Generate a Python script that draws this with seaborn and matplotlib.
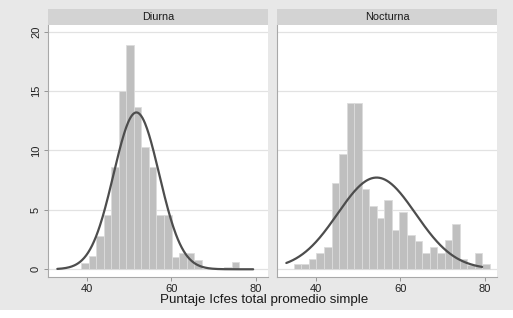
import numpy as np
import pandas as pd
import matplotlib
matplotlib.use("Agg")
import matplotlib.pyplot as plt
import seaborn as sns
from matplotlib.patches import Rectangle

# ---------------- data ----------------
panels = ["Diurna", "Nocturna"]
bin_width = 1.78
diurna_start = 38.68
nocturna_start = 34.87
diurna_pct = [0.5, 1.1, 2.8, 4.6, 8.6, 15.0, 18.9, 13.7, 10.3, 8.6, 4.6,
              4.6, 1.0, 1.4, 1.4, 0.8, 0.0, 0.0, 0.0, 0.2, 0.6]
nocturna_pct = [0.42, 0.42, 0.9, 1.35, 1.85, 7.3, 9.7, 14.0, 14.0, 6.75,
                5.3, 4.3, 5.8, 3.3, 4.8, 2.85, 2.35, 1.35, 1.85, 1.35,
                2.45, 3.85, 0.9, 0.37, 1.35, 0.42]
diurna_mean, diurna_sd = 51.75, 5.38
nocturna_mean, nocturna_sd = 54.4, 9.2
curve_min, curve_max = 33.1, 79.3
x_ticks = [40, 60, 80]
y_ticks = [0, 5, 10, 15, 20]
x_label = "Puntaje Icfes total promedio simple"

# ---------------- style ----------------
sns.set_theme(style="white")
plt.rcParams["font.family"] = ["Liberation Sans", "DejaVu Sans"]

W, H = 513, 318
fig = plt.figure(figsize=(W / 100, H / 100), dpi=100)
fig.patch.set_facecolor("#e8e8e8")
fig.patches.append(Rectangle((0, 0), 1, 8 / H, transform=fig.transFigure,
                             facecolor="white", edgecolor="none", zorder=0))

bar_color = "#bfbfbf"
line_color = "#4d4d4d"

specs = [
    (panels[0], diurna_start, diurna_pct, diurna_mean, diurna_sd, 48),
    (panels[1], nocturna_start, nocturna_pct, nocturna_mean, nocturna_sd, 277),
]

for i, (name, start, pct, mu, sd, px_left) in enumerate(specs):
    ax = fig.add_axes([px_left / W, (H - 277) / H, 220 / W, (277 - 25) / H])
    ax.set_facecolor("white")
    n = len(pct)
    edges = start + bin_width * np.arange(n + 1)
    centers = edges[:-1] + bin_width / 2
    df = pd.DataFrame({"x": centers, "w": pct})
    for yv in y_ticks:
        ax.axhline(yv, color="#e2e2e2", lw=0.9, zorder=0)
    sns.histplot(data=df, x="x", weights="w", binwidth=bin_width,
                 binrange=(float(edges[0]), float(edges[-1])), ax=ax,
                 color=bar_color, edgecolor="#dcdcdc", linewidth=0.6,
                 alpha=1.0)
    xs = np.linspace(curve_min, curve_max, 300)
    ys = 100 * bin_width / (sd * np.sqrt(2 * np.pi)) * np.exp(-0.5 * ((xs - mu) / sd) ** 2)
    sns.lineplot(x=xs, y=ys, ax=ax, color=line_color, lw=1.6)

    ax.set_xlim(30.9, 82.8)
    ax.set_ylim(-0.65, 20.56)
    ax.set_xticks(x_ticks)
    ax.set_yticks(y_ticks)
    ax.set_xlabel("")
    ax.set_ylabel("")
    for s in ["top", "right"]:
        ax.spines[s].set_visible(False)
    ax.spines["bottom"].set_color("#a8a8a8")
    ax.spines["left"].set_color("#a8a8a8")
    ax.spines["bottom"].set_linewidth(0.8)
    ax.spines["left"].set_linewidth(0.8)
    ax.tick_params(axis="x", length=3, width=0.6, color="#888888",
                   labelsize=8, pad=2, labelcolor="#222222", bottom=True)
    if i == 0:
        ax.tick_params(axis="y", length=3, width=0.6, color="#888888",
                       labelsize=8, pad=2, left=True, labelcolor="#222222")
        plt.setp(ax.get_yticklabels(), rotation=90, va="center")
    else:
        ax.tick_params(axis="y", left=False, labelleft=False)

    # strip title
    sax = fig.add_axes([px_left / W, (H - 25) / H, 220 / W, 16 / H])
    sax.set_facecolor("#d3d3d3")
    sax.set_xticks([])
    sax.set_yticks([])
    for s in sax.spines.values():
        s.set_visible(False)
    sax.text(0.5, 0.5, name, ha="center", va="center", fontsize=7.8,
             color="#1a1a1a", transform=sax.transAxes)

fig.text(264 / W, 1 - 300 / H, x_label, ha="center", va="center",
         fontsize=9.6, color="#1a1a1a")

fig.savefig("out.png", dpi=100, facecolor=fig.get_facecolor())
